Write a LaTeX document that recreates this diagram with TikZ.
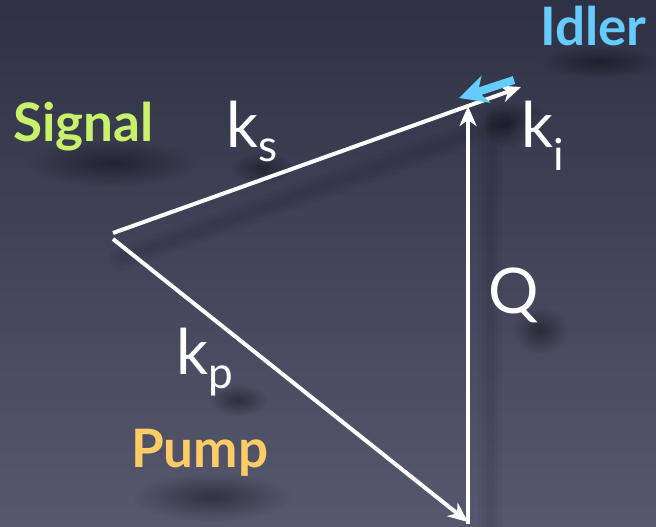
\documentclass[tikz,border=0pt]{standalone}
\usepackage{fontspec}
\setmainfont{Lato}
\definecolor{night}{HTML}{2F3145}
\definecolor{dusk}{HTML}{56586E}
\definecolor{sig}{HTML}{C9F26B}
\definecolor{pmp}{HTML}{FFCC66}
\definecolor{idl}{HTML}{66CCFF}
\usetikzlibrary{arrows.meta, positioning, fadings}
\tikzfading[name=fuzzy, inner color=transparent!0, outer color=transparent!100]
\tikzset{
  vec/.style={-{Stealth[length=20pt,width=17pt,inset=6pt]}, line width=4pt, color=white},
  idlvec/.style={-{Stealth[length=28pt,width=28pt,inset=8pt]}, line width=8pt, color=idl},
  tag/.style={font=\fontsize{53}{60}\selectfont\bfseries, anchor=base west, inner sep=0pt},
  wave/.style={font=\fontsize{63}{70}\selectfont, color=white, anchor=base west, inner sep=0pt},
  blot/.style={fill=black, path fading=fuzzy, opacity=.4},
  haze/.style={draw=black, line cap=round, opacity=.035},
}
\begin{document}
\begin{tikzpicture}[x=1pt,y=-1pt]
\shade[top color=night, bottom color=dusk] (0,0) rectangle (656,527);
\useasboundingbox (0,0) rectangle (656,527);
% soft shadows under the texts
\fill[blot] (112,163) ellipse (85 and 24);
\fill[blot] (262,168) ellipse (30 and 16);
\fill[blot] (505,125) ellipse (22 and 24);
\fill[blot] (600,62) ellipse (60 and 16);
\fill[blot] (540,330) ellipse (28 and 24);
\fill[blot] (238,400) ellipse (30 and 16);
\fill[blot] (212,497) ellipse (80 and 24);
% corners of the triangle
\coordinate (so) at (113,233);
\coordinate (po) at (113,239);
\coordinate (st) at (521,87);
\coordinate (pt) at (468,522);
\coordinate (qo) at (468,524);
\coordinate (qt) at (468,106);
\coordinate (io) at (514,80);
\coordinate (it) at (459,98);
% blurred shadows of the vectors
\foreach \w in {24,16,9}{
\draw[haze,line width=\w pt] ([shift={(8,26)}]so)--([shift={(8,26)}]st);
\draw[haze,line width=\w pt] ([shift={(22,10)}]qo)--([shift={(22,10)}]qt);}
\draw[vec] (po)--(pt);
\draw[vec] (so)--(st);
\draw[vec] (qo)--(qt);
\draw[idlvec] (io)--(it);
\node[tag,color=sig] (signal) at (13,141) {Signal};
\node[tag,color=pmp] (pump) at (131,467) {Pump};
\node[tag,color=idl] (idler) at (540,46) {Idler};
\node[wave] (ks) at (226,147) {k\textsubscript{s}};
\node[wave] (ki) at (521,147) {k\textsubscript{i}};
\node[wave] (kp) at (176,374) {k\textsubscript{p}};
\node[wave] (q) at (488,313) {Q};
\end{tikzpicture}
\end{document}
